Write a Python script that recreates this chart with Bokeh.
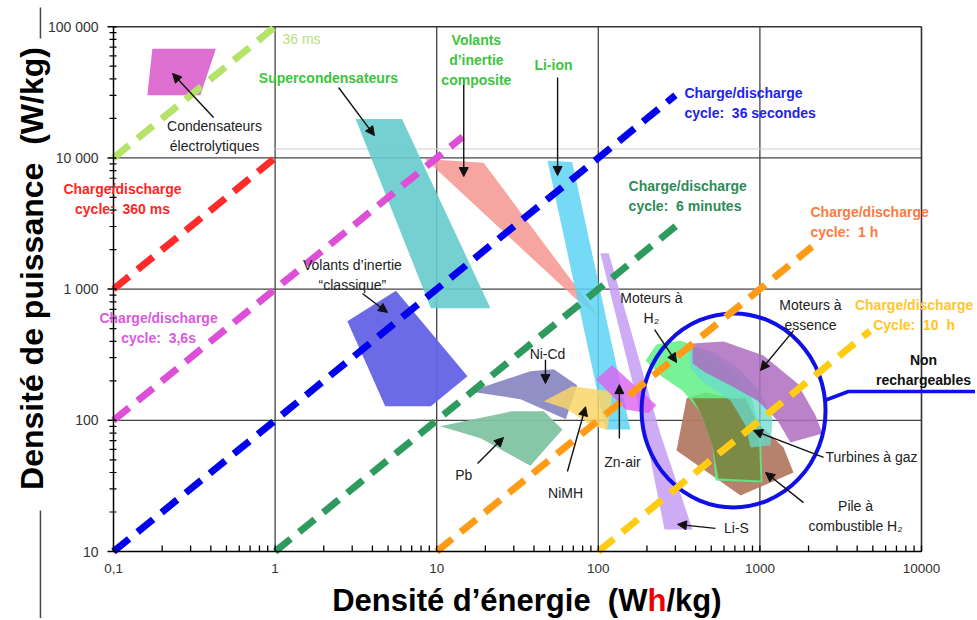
import math
from bokeh.plotting import figure
from bokeh.models import Range1d, Label, Arrow, NormalHead, ColumnDataSource
from bokeh.core.properties import value
from bokeh.embed import file_html
from bokeh.resources import INLINE

FONT = "Liberation Sans"
NB = "\u00a0"

# ---------------- axes ----------------
x_ticks = [0.1, 1.0, 10.0, 100.0, 1000.0, 10000.0]
x_tick_labels = ["0,1", "1", "10", "100", "1000", "10000"]
y_ticks = [10.0, 100.0, 1000.0, 10000.0, 100000.0]
y_tick_labels = ["10", "100", "1 000", "10 000", "100 000"]
minor_steps = [2, 3, 4, 5, 6, 7, 8, 9]

# ---------------- technology regions (Wh/kg, W/kg) ----------------
tech_names = ["Condensateurs électrolytiques", "Supercondensateurs", "Volants d'inertie composite",
              "Li-ion", "Volants d'inertie classique", "Pb", "Ni-Cd", "NiMH", "Li-S", "Zn-air",
              "Pile à combustible H2", "Moteurs à H2", "Moteurs à H2 + pile", "Turbines à gaz",
              "Moteurs à essence"]
tech_x = [
    [0.174, 0.43, 0.345, 0.162],
    [3.15, 6.1, 21.5, 9.2],
    [8.5, 19.5, 100, 72],
    [48.5, 69, 158, 111],
    [2.8, 5.6, 15.5, 9.2, 4.8],
    [10.5, 29, 46, 60, 38, 18.7],
    [16, 38, 53, 74, 63, 33],
    [46, 69, 122, 114, 93, 63],
    [103, 116, 243, 383, 257, 196],
    [97, 122, 229, 205, 147],
    [352, 460, 658, 1009, 1400, 1614, 759, 305],
    [196, 229, 323, 460, 658, 875, 1009, 1038, 531, 509, 429, 332, 243],
    [383, 815, 980, 1009, 554, 509, 429],
    [361, 531, 759, 1009, 1197, 1164, 875, 815, 658, 448, 372],
    [383, 596, 1052, 1710, 2210, 2440, 1545, 1285, 966, 658, 460, 383],
]
tech_y = [
    [68000, 68000, 30000, 30000],
    [19800, 19800, 716, 716],
    [9800, 9200, 620, 850],
    [9500, 9300, 85, 85],
    [570, 970, 217, 128, 128],
    [90, 117, 117, 85, 45, 73],
    [166, 237, 245, 185, 102, 145],
    [140, 182, 166, 85, 90, 123],
    [1880, 1880, 78, 14.7, 14.7, 78],
    [206, 263, 130, 113, 121],
    [147, 163, 149, 91.2, 62.1, 40, 26.7, 58.9],
    [286, 378, 406, 340, 240, 155, 83.6, 33.6, 34.8, 64.3, 115, 169, 219],
    [147, 147, 91.2, 34.8, 36, 64.3, 115],
    [372, 329, 240, 163, 103, 64.3, 62.1, 91.2, 141.6, 194, 248],
    [385, 399, 312, 191, 109, 79.3, 67.7, 99.6, 141.6, 184, 231, 271],
]
tech_colors = ["#de6fd0", "#66cccc", "#f6958f", "#5cd3f3", "#6363e6", "#82c3a3", "#8a8ac4",
               "#f9d567", "#c59ef3", "#dc62f0", "#b27b63", "#5ff084", "#7c8a45", "#6ad9cf",
               "#ad6cc0"]
tech_alpha = [1.0, 0.9, 0.85, 0.85, 0.95, 0.95, 0.95, 0.85, 0.85, 0.8, 0.95, 0.85, 1.0, 0.75, 0.85]

# ---------------- charge/discharge cycle lines ----------------
cycle_names = ["36 ms", "360 ms", "3,6 s", "36 s", "6 min", "1 h", "10 h"]
cycle_x0 = [0.1, 0.1, 0.1, 0.1, 1, 10, 100]
cycle_y0 = [10000, 1000, 100, 10, 10, 10, 10]
cycle_x1 = [1, 1, 14.5, 300, 335, 2100, 4800]
cycle_y1 = [100000, 10000, 14500, 30000, 3350, 2100, 480]
cycle_colors = ["#b5e36a", "#ff2a2a", "#dc4fd6", "#0000ee", "#2e9a5e", "#ff9b16", "#ffcc14"]

# ---------------- "non rechargeables" circle ----------------
circle_x = [687]
circle_y = [119]
conn_x = [2512, 3532, 30000]
conn_y = [141.6, 165.8, 165.8]

# ---------------- side rules of the picture ----------------
rule_x = [0.0353, 0.0353]
rule_y0 = [140000, 20.5]
rule_y1 = [81300, 2.0]

# ---------------- texts ----------------
GREEN = "#3dc43d"
DARK = "#222222"
label_text = ["36 ms",
              "Charge/discharge\ncycle:" + NB + " 360 ms",
              "Charge/discharge\ncycle:" + NB + " 3,6s",
              "Charge/discharge\ncycle:" + NB + " 36 secondes",
              "Charge/discharge\ncycle:" + NB + " 6 minutes",
              "Charge/discharge\ncycle:" + NB + " 1 h",
              "Charge/discharge\nCycle:" + NB + " 10" + NB + " h",
              "Supercondensateurs",
              "Volants\nd’inertie\ncomposite",
              "Li-ion",
              "Condensateurs\nélectrolytiques",
              "Volants d’inertie\n“classique”",
              "Ni-Cd", "Pb", "NiMH", "Zn-air",
              "Moteurs à\nH₂",
              "Moteurs à\nessence",
              "Turbines à gaz",
              "Pile à\ncombustible H₂",
              "Li-S",
              "Non\nrechargeables"]
label_x = [1.11, 0.1137, 0.19, 341, 154, 2056, 9000, 2.14, 17.6, 52.8, 0.422, 3.01,
           48.5, 14.7, 62.7, 141, 213, 2056, 4910, 3910, 716, 10300]
label_y = [81300, 4900, 509, 26400, 5160, 3220, 640, 41000, 56200, 51500, 14800, 1290,
           323, 38.6, 27.7, 48.5, 724, 640, 52.1, 18.8, 15.2, 240]
label_color = ["#b8e07a", "#ff2626", "#dd58dd", "#2222ee", "#2e8b57", "#ff7a3c", "#ffc628",
               GREEN, GREEN, GREEN] + [DARK] * 11 + ["#111111"]
label_style = ["normal"] + ["bold"] * 9 + ["normal"] * 11 + ["bold"]
label_align = ["left", "center", "center", "left", "left", "left", "center"] + ["center"] * 15

# ---------------- annotation arrows ----------------
arrow_x0 = [0.416, 2.47, 14.7, 56, 3.47, 47.1, 17.9, 64.4, 135, 223, 1614, 2480, 1862, 531]
arrow_y0 = [20300, 34400, 40300, 41000, 925, 290, 46.9, 40.7, 72.6, 492, 483, 52.1, 23.6, 15.0]
arrow_x1 = [0.232, 4.12, 14.7, 56, 4.96, 47.1, 25.9, 83.4, 135, 305, 1009, 912, 1084, 309]
arrow_y1 = [44000, 14800, 7210, 7350, 664, 191, 73.9, 127, 187, 276, 240, 83.6, 40, 16.1]

# ---------------- figure (the frame covers the whole picture) ----------------
p = figure(frame_width=975, frame_height=618,
           x_axis_type="log", y_axis_type="log",
           x_range=Range1d(0.019982, 21590), y_range=Range1d(3.086, 158430),
           x_axis_location=None, y_axis_location=None,
           output_backend="svg", toolbar_location=None, min_border=0)
p.outline_line_color = None
for g in list(p.xgrid) + list(p.ygrid):
    g.visible = False
p.background_fill_color = "white"
p.border_fill_color = "white"

x_minor = [d * m for d in x_ticks[:-1] for m in minor_steps]
y_minor = [d * m for d in y_ticks[:-1] for m in minor_steps]
x0, x1 = x_ticks[0], x_ticks[-1]
y0, y1 = y_ticks[0], y_ticks[-1]

# grid lines and frame borders
gx = x_ticks[1:-1]
p.segment(x0=gx, y0=[y0] * len(gx), x1=gx, y1=[y1] * len(gx), line_color="#444444", line_width=1.3)
gy = y_ticks[1:-1]
p.segment(x0=[x0] * len(gy), y0=gy, x1=[x1] * len(gy), y1=gy, line_color="#444444", line_width=1.3)
p.segment(x0=[1.0], y0=[11700], x1=[x1], y1=[11700], line_color="#cccccc", line_width=1)
p.segment(x0=[x0, x1], y0=[y1, y0], x1=[x1, x1], y1=[y1, y1], line_color="#333333", line_width=1.6)
p.segment(x0=rule_x, y0=rule_y0, x1=rule_x, y1=rule_y1, line_color="#444444", line_width=1.5)

# regions
p.patches(xs=tech_x, ys=tech_y, fill_color=tech_colors, fill_alpha=tech_alpha, line_color=None)

# circle of non rechargeable systems
p.ellipse(x=circle_x, y=circle_y, width=184, height=194, width_units="screen", height_units="screen",
          fill_color=None, line_color="#1010e6", line_width=4)
p.line(x=conn_x, y=conn_y, line_color="#1010e6", line_width=3.5)

# cycle lines
p.segment(x0=cycle_x0, y0=cycle_y0, x1=cycle_x1, y1=cycle_y1, line_color=cycle_colors,
          line_width=7, line_dash="20 11", line_cap="butt")

# axes drawn by hand
p.segment(x0=[x0, x0], y0=[y0, y0], x1=[x0, x1], y1=[y1, y0], line_color="black", line_width=1.5)
p.ray(x=[x0] * len(y_ticks), y=y_ticks, length=6, angle=math.pi, length_units="screen",
      line_color="black", line_width=1.5)
p.ray(x=[x0] * len(y_ticks), y=y_ticks, length=3, angle=0, length_units="screen",
      line_color="black", line_width=1.5)
p.ray(x=[x0] * len(y_minor), y=y_minor, length=4, angle=math.pi, length_units="screen",
      line_color="black", line_width=1.2)
p.ray(x=[x0] * len(y_minor), y=y_minor, length=3, angle=0, length_units="screen",
      line_color="black", line_width=1.2)
p.ray(x=x_ticks + x_minor, y=[y0] * (len(x_ticks) + len(x_minor)), length=6, angle=math.pi / 2,
      length_units="screen", line_color="black", line_width=1.3)
p.text(x=[x0] * len(y_ticks), y=y_ticks, text=y_tick_labels, x_offset=-15,
       text_align="right", text_baseline="middle", text_font=value(FONT),
       text_font_size="14px", text_color="#333333")
p.text(x=x_ticks, y=[y0] * len(x_ticks), text=x_tick_labels, y_offset=12,
       text_align="center", text_baseline="top", text_font=value(FONT),
       text_font_size="13.5px", text_color="#333333")

# arrows
asrc = ColumnDataSource(dict(x0=arrow_x0, y0=arrow_y0, x1=arrow_x1, y1=arrow_y1))
p.add_layout(Arrow(x_start="x0", y_start="y0", x_end="x1", y_end="y1", source=asrc,
                   line_color="#111111", line_width=1.4,
                   end=NormalHead(size=9, fill_color="#111111", line_color="#111111", line_width=1)))

# labels
for t, x, y, c, s, a in zip(label_text, label_x, label_y, label_color, label_style, label_align):
    p.add_layout(Label(x=x, y=y, text=t, text_color=c, text_font=FONT, text_font_style=s,
                       text_font_size="14px", text_align=a, text_baseline="middle",
                       text_line_height=1.25))

# axis titles
p.add_layout(Label(x=0.0311, y=1436, text="Densité de puissance" + NB + " (W/kg)", angle=math.pi / 2,
                   text_align="center", text_baseline="middle", text_font=FONT,
                   text_font_style="bold", text_font_size="32px", text_color="black"))
xt_parts = ["Densité d’énergie" + NB + " (W", "h", "/kg)"]
xt_x = [201.4, 201.4, 264]
xt_align = ["right", "left", "left"]
xt_color = ["black", "#ee0000", "black"]
for t, x, a, c in zip(xt_parts, xt_x, xt_align, xt_color):
    p.add_layout(Label(x=x, y=4.23, text=t, text_align=a, text_baseline="middle",
                       text_font=FONT, text_font_style="bold", text_font_size="31px", text_color=c))

open("out.html", "w").write(file_html(p, INLINE))
